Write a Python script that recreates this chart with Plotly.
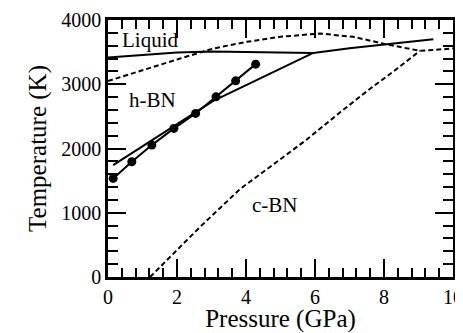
import plotly.graph_objects as go

# Data
exp_p = [0.15, 0.69, 1.27, 1.91, 2.54, 3.13, 3.70, 4.28]
exp_t = [1535, 1793, 2053, 2313, 2546, 2804, 3053, 3313]

liq_p = [0, 1, 2, 3, 4, 5, 5.95, 7, 8, 9.43]
liq_t = [3415, 3460, 3495, 3510, 3505, 3495, 3488, 3560, 3615, 3700]

hbn_p = [0.15, 1, 2, 2.52, 3.05, 4.02, 4.99, 5.95]
hbn_t = [1740, 2030, 2380, 2560, 2740, 2990, 3246, 3488]

upper_p = [0, 1, 1.7, 2.09, 3.05, 4.02, 4.99, 5.95, 6.14, 7.11, 8.08, 9.04, 10]
upper_t = [3050, 3220, 3342, 3400, 3556, 3660, 3738, 3780, 3790, 3738, 3620, 3520, 3556]

cbn_p = [1.22, 2, 2.67, 3.25, 3.83, 4.79, 5.76, 6.72, 7.5, 8.3, 9.04]
cbn_t = [0, 420, 780, 1075, 1370, 1750, 2140, 2560, 2890, 3210, 3520]

labels = ["Liquid", "h-BN", "c-BN"]
label_p = [1.22, 1.30, 4.84]
label_t = [3690, 2755, 1121]

FONT = "Liberation Serif, Times New Roman, DejaVu Serif, serif"
LW = 2
DASH = "5px,3px"

fig = go.Figure()
fig.add_trace(go.Scatter(x=liq_p, y=liq_t, mode="lines",
                         line=dict(color="black", width=LW)))
fig.add_trace(go.Scatter(x=hbn_p, y=hbn_t, mode="lines",
                         line=dict(color="black", width=LW)))
fig.add_trace(go.Scatter(x=upper_p, y=upper_t, mode="lines",
                         line=dict(color="black", width=LW, dash=DASH)))
fig.add_trace(go.Scatter(x=cbn_p, y=cbn_t, mode="lines",
                         line=dict(color="black", width=LW, dash=DASH)))
fig.add_trace(go.Scatter(x=exp_p, y=exp_t, mode="lines+markers",
                         line=dict(color="black", width=LW),
                         marker=dict(color="black", size=9, symbol="circle")))
# invisible trace on the overlay axes that carry the minor ticks
fig.add_trace(go.Scatter(x=[None], y=[None], xaxis="x2", yaxis="y2",
                         mode="lines", showlegend=False, hoverinfo="skip"))

for txt, px, ty in zip(labels, label_p, label_t):
    fig.add_annotation(x=px, y=ty, text=txt, showarrow=False,
                       font=dict(family=FONT, size=21, color="black"),
                       xanchor="center", yanchor="middle")

fig.update_layout(
    width=455, height=325,
    margin=dict(l=100, r=10, t=12, b=56),
    paper_bgcolor="white", plot_bgcolor="white",
    showlegend=False,
    font=dict(family=FONT, color="black"),
    xaxis=dict(range=[0, 10], tickmode="linear", tick0=0, dtick=2,
               showgrid=False, zeroline=False, showline=True,
               linecolor="black", linewidth=2.5, mirror="allticks",
               ticks="inside", ticklen=18, tickwidth=2, tickcolor="black",
               automargin=False,
               tickfont=dict(family=FONT, size=20, color="black"),
               title=dict(text="Pressure (GPa)",
                          font=dict(family=FONT, size=25, color="black"),
                          standoff=2)),
    yaxis=dict(range=[0, 4000], tickmode="linear", tick0=0, dtick=1000,
               showgrid=False, zeroline=False, showline=True,
               linecolor="black", linewidth=2.5, mirror="allticks",
               ticks="inside", ticklen=18, tickwidth=2, tickcolor="black",
               automargin=False,
               tickfont=dict(family=FONT, size=20, color="black"),
               title=dict(text="Temperature (K)",
                          font=dict(family=FONT, size=25, color="black"),
                          standoff=8)),
    xaxis2=dict(overlaying="x", matches="x", range=[0, 10],
                tickmode="linear", tick0=0, dtick=0.4,
                showgrid=False, zeroline=False, showline=False,
                showticklabels=False, mirror="allticks",
                ticks="inside", ticklen=9, tickwidth=2, tickcolor="black",
                automargin=False, side="bottom", anchor="y2"),
    yaxis2=dict(overlaying="y", matches="y", range=[0, 4000],
                tickmode="linear", tick0=0, dtick=200,
                showgrid=False, zeroline=False, showline=False,
                showticklabels=False, mirror="allticks",
                ticks="inside", ticklen=10, tickwidth=2, tickcolor="black",
                automargin=False, side="left", anchor="x2"),
)

fig.write_html("out.html")
